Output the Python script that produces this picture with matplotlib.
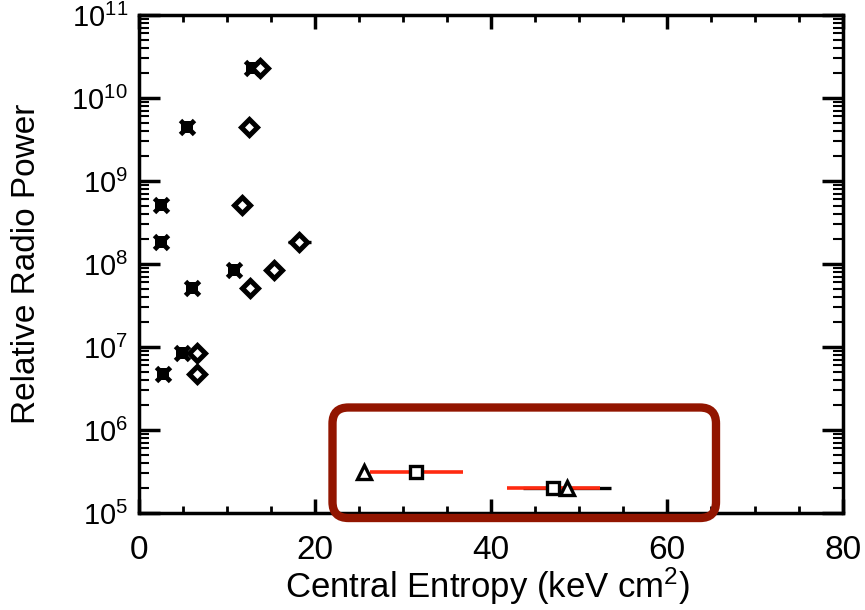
import numpy as np
import matplotlib
matplotlib.use('Agg')
import matplotlib.pyplot as plt
from matplotlib.patches import FancyBboxPatch
from matplotlib.transforms import IdentityTransform
from matplotlib.ticker import LogLocator, MultipleLocator, NullFormatter

plt.rcParams['font.family'] = ['Liberation Sans', 'DejaVu Sans']
plt.rcParams['mathtext.default'] = 'regular'

# asterisks
star_entropy = [12.8, 5.4, 2.5, 2.5, 10.8, 6.0, 4.85, 2.75]
star_power = [2.3e10, 4.5e9, 5.1e8, 1.85e8, 8.5e7, 5.1e7, 8.4e6, 4.7e6]
# diamonds (same powers as the asterisks)
diamond_entropy = [13.75, 12.5, 11.7, 18.2, 15.3, 12.6, 6.55, 6.55]
diamond_err = [1.0, 0.4, 0.6, 1.3, 0.5, 0.4, 0.4, 0.4]
diamond_power = star_power
# highlighted points
square_entropy = [31.5, 47.1]
square_err = [5.3, 5.3]
square_power = [3.1e5, 2.0e5]
triangle_entropy = [25.6, 48.6]
triangle_err = [0.0, 5.0]
triangle_power = [3.1e5, 2.0e5]

fig = plt.figure(figsize=(8.65, 6.1), dpi=100)
ax = fig.add_axes([139/865, 1-513/610, 704/865, 498/610])

ax.errorbar(diamond_entropy, diamond_power, xerr=diamond_err, fmt='none',
            ecolor='k', elinewidth=2.4, capsize=0, zorder=2)
ax.errorbar(triangle_entropy, triangle_power, xerr=triangle_err, fmt='none',
            ecolor='k', elinewidth=2.4, capsize=0, zorder=2)
ax.errorbar(square_entropy, square_power, xerr=square_err, fmt='none',
            ecolor='#ff2a10', elinewidth=2.6, capsize=0, zorder=3)

# asterisk: thick "x" over a small filled square
ax.plot(star_entropy, star_power, ls='none', marker='x', ms=10,
        mew=3.5, color='k', zorder=4)
ax.plot(star_entropy, star_power, ls='none', marker='s', ms=8.5,
        mew=0, color='k', zorder=4)
ax.plot(diamond_entropy, diamond_power, ls='none', marker='D', ms=8,
        mew=3.6, mec='k', mfc='white', zorder=4)
ax.plot(triangle_entropy, triangle_power, ls='none', marker='^', ms=10,
        mew=2.4, mec='k', mfc='white', zorder=5)
ax.plot(square_entropy, square_power, ls='none', marker='s', ms=9,
        mew=2.4, mec='k', mfc='white', zorder=5)

ax.set_yscale('log')
ax.set_xlim(0, 80)
ax.set_ylim(1e5, 1e11)
ax.xaxis.set_major_locator(MultipleLocator(20))
ax.xaxis.set_minor_locator(MultipleLocator(5))
ax.yaxis.set_major_locator(LogLocator(base=10, numticks=10))
ax.yaxis.set_minor_locator(LogLocator(base=10, subs=np.arange(2, 10), numticks=20))
ax.yaxis.set_minor_formatter(NullFormatter())

ax.tick_params(which='both', direction='in', top=True, right=True)
ax.tick_params(axis='x', which='major', length=10, width=2.5, pad=16, labelsize=24)
ax.tick_params(axis='x', which='minor', length=5, width=2)
ax.tick_params(axis='y', which='major', length=15, width=2.5, pad=8, labelsize=21)
ax.tick_params(axis='y', which='minor', length=7, width=1.5)
for s in ax.spines.values():
    s.set_linewidth(2.5)

ax.set_xlabel('Central Entropy (keV cm$^2$)', fontsize=25)
ax.xaxis.label.set_va('baseline')
ax.xaxis.set_label_coords(0.495, (513 - 598) / 498)
ax.set_ylabel('Relative Radio Power', fontsize=24)
ax.yaxis.label.set_va('center')
ax.yaxis.set_label_coords((27 - 139) / 704, 0.5)

box = FancyBboxPatch((332.5, 92), 383.5, 110.5,
                     boxstyle='round,pad=0,rounding_size=16',
                     transform=IdentityTransform(), fill=False,
                     ec='#921500', lw=6, clip_on=False)
fig.add_artist(box)

fig.savefig('out.png', dpi=100)
